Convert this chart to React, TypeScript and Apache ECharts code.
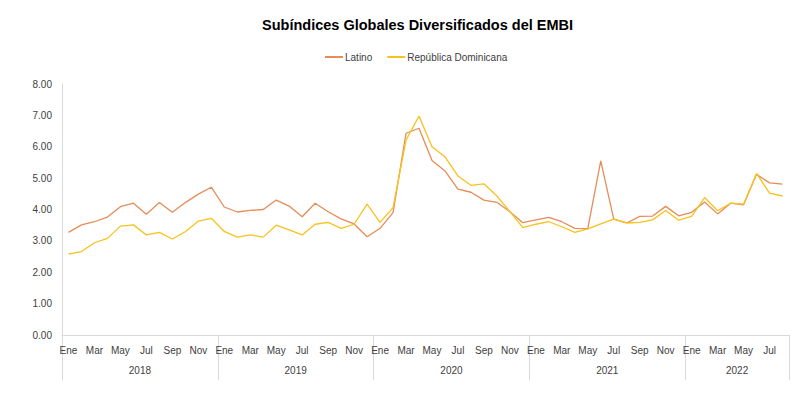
import React, { useEffect, useRef } from "react";
import * as echarts from "echarts";

const monthNames = ["Ene", "Feb", "Mar", "Abr", "May", "Jun", "Jul", "Ago", "Sep", "Oct", "Nov", "Dic"];
const years = ["2018", "2019", "2020", "2021", "2022"];
const monthsPerYear = [12, 12, 12, 12, 8];

const latino = [
  3.27, 3.51, 3.61, 3.76, 4.09, 4.2, 3.85, 4.22, 3.91, 4.22, 4.49, 4.71,
  4.08, 3.92, 3.97, 4.0, 4.3, 4.11, 3.77, 4.2, 3.93, 3.7, 3.54, 3.13,
  3.4, 3.9, 6.43, 6.59, 5.56, 5.23, 4.65, 4.55, 4.3, 4.23, 3.93, 3.58,
  3.67, 3.75, 3.61, 3.4, 3.39, 5.55, 3.69, 3.57, 3.78, 3.79, 4.1, 3.8,
  3.91, 4.24, 3.86, 4.2, 4.15, 5.12, 4.85, 4.81,
];
const dominicana = [
  2.58, 2.66, 2.94, 3.08, 3.47, 3.51, 3.19, 3.27, 3.06, 3.29, 3.63, 3.72,
  3.3, 3.12, 3.19, 3.12, 3.5, 3.35, 3.19, 3.53, 3.59, 3.4, 3.53, 4.17,
  3.59, 4.06, 6.21, 6.98, 6.0, 5.68, 5.07, 4.77, 4.82, 4.43, 3.93, 3.42,
  3.53, 3.61, 3.45, 3.27, 3.38, 3.54, 3.69, 3.57, 3.59, 3.67, 3.97, 3.66,
  3.78, 4.38, 3.96, 4.2, 4.17, 5.15, 4.52, 4.43,
];

const monthCats: string[] = [];
years.forEach((y, yi) => {
  for (let m = 0; m < monthsPerYear[yi]; m++) monthCats.push(monthNames[m]);
});

// boundary axis: 57 points (0..56) for year separators and year labels
const boundaryCats: string[] = [];
const yearLabelAt: Record<number, string> = {};
const separatorAt: Record<number, boolean> = {};
{
  let start = 0;
  years.forEach((y, yi) => {
    separatorAt[start] = true;
    yearLabelAt[start + Math.floor(monthsPerYear[yi] / 2)] = y;
    start += monthsPerYear[yi];
  });
  separatorAt[start] = true;
  for (let i = 0; i <= start; i++) boundaryCats.push(yearLabelAt[i] || "");
}

const FONT = "'Liberation Sans', Arial, sans-serif";
const TXT = "#404040";

export default function App() {
  const ref = useRef<HTMLDivElement>(null);
  useEffect(() => {
    if (!ref.current) return;
    const chart = echarts.init(ref.current, undefined, { renderer: "svg" });
    chart.setOption({
      animation: false,
      backgroundColor: "#ffffff",
      textStyle: { fontFamily: FONT },
      title: {
        text: "Subíndices Globales Diversificados del EMBI",
        left: 257,
        top: 12,
        textStyle: { fontSize: 14.5, fontWeight: "bold", color: "#000", fontFamily: FONT },
      },
      legend: {
        top: 47,
        left: 320,
        itemWidth: 18,
        itemHeight: 2,
        itemGap: 15,
        icon: "rect",
        textStyle: { fontSize: 10, color: TXT, fontFamily: FONT, padding: [0, 0, 0, -3] },
        data: ["Latino", "República Dominicana"],
      },
      grid: { left: 62, right: 19, top: 84, bottom: 62, containLabel: false },
      xAxis: [
        {
          type: "category",
          data: monthCats,
          boundaryGap: true,
          axisLine: { show: true, lineStyle: { color: "#D9D9D9", width: 1 } },
          axisTick: { show: false },
          axisLabel: { interval: 1, fontSize: 10, color: TXT, margin: 10, fontFamily: FONT },
        },
        {
          type: "category",
          data: boundaryCats,
          boundaryGap: false,
          position: "bottom",
          axisLine: { show: false },
          axisTick: {
            show: true,
            length: 45,
            interval: (i: number) => !!separatorAt[i],
            lineStyle: { color: "#D9D9D9", width: 1 },
          },
          axisLabel: {
            interval: (i: number) => !!yearLabelAt[i],
            fontSize: 10,
            color: TXT,
            margin: 30,
            fontFamily: FONT,
          },
        },
      ],
      yAxis: {
        type: "value",
        min: 0,
        max: 8,
        interval: 1,
        axisLine: { show: true, lineStyle: { color: "#D9D9D9", width: 1 } },
        axisTick: { show: false },
        splitLine: { show: false },
        axisLabel: {
          formatter: (v: number) => v.toFixed(2),
          fontSize: 10,
          color: TXT,
          margin: 10,
          fontFamily: FONT,
        },
      },
      series: [
        {
          name: "Latino",
          type: "line",
          data: latino,
          symbol: "none",
          lineStyle: { color: "#E58C58", width: 1.3 },
          itemStyle: { color: "#E58C58" },
        },
        {
          name: "República Dominicana",
          type: "line",
          data: dominicana,
          symbol: "none",
          lineStyle: { color: "#F8C21C", width: 1.3 },
          itemStyle: { color: "#F8C21C" },
        },
      ],
    });
    return () => chart.dispose();
  }, []);
  return <div ref={ref} style={{ width: 808, height: 397, margin: -8 }} />;
}
